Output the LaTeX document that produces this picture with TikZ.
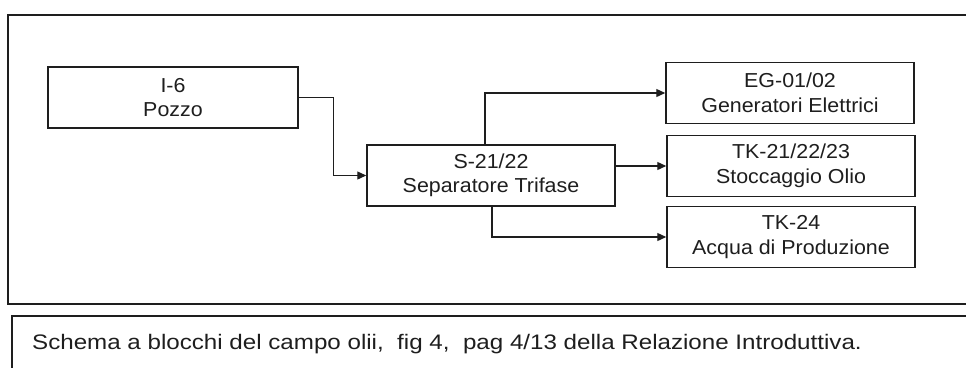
\documentclass[tikz,border=0pt]{standalone}
\usepackage{fontspec}
\setmainfont{Liberation Sans}
\newfontfamily\boxfont[FakeStretch=1.06]{Liberation Sans}
\newfontfamily\capfont[FakeStretch=1.15]{Liberation Sans}
\usetikzlibrary{arrows.meta}
\definecolor{ink}{HTML}{1E1E1E}
\tikzset{
  blk/.style={draw=ink, line width=1.5pt, minimum width=248pt, minimum height=61pt,
    align=center, inner sep=0pt, text=ink, font=\boxfont\fontsize{20.2}{24.5}\selectfont},
  conn/.style={draw=ink, line width=1.3pt, -{Triangle[length=9pt,width=8pt]}},
  frame/.style={draw=ink, line width=1.8pt}
}
\begin{document}
\begin{tikzpicture}[x=1pt,y=-1pt]
\useasboundingbox (0,0) rectangle (966,367);
\fill[white] (0,0) rectangle (966,367);
\begin{scope}
\clip (0,0) rectangle (966,367);
\draw[frame] (975,15) -- (8,15) -- (8,304) -- (975,304);
\draw[frame, line width=1.2pt] (975,316) -- (12,316) -- (12,380);
\end{scope}
\node[blk, minimum width=250pt] (i6) at (173,97.5) {I-6\\Pozzo};
\node[blk] (s) at (491,175.5) {S-21/22\\Separatore Trifase};
\node[blk] (eg) at (790,93) {EG-01/02\\Generatori Elettrici};
\node[blk] (tk) at (791,166) {TK-21/22/23\\Stoccaggio Olio};
\node[blk] (tk24) at (791,237) {TK-24\\Acqua di Produzione};
\draw[conn] (i6.east) -- ++(35,0) |- (s.west);
\draw[conn] ([xshift=-6pt]s.north) |- (eg.west);
\draw[conn] (s.east |- tk.west) -- (tk.west);
\draw[conn] ([xshift=1pt]s.south) |- (tk24.west);
\node[anchor=base west, inner sep=0pt, text=ink, font=\capfont\fontsize{21}{26}\selectfont] (cap) at (32,349.5)
  {Schema a blocchi del campo olii,\ \ fig 4,\ \ pag 4/13 della Relazione Introduttiva.};
\end{tikzpicture}
\end{document}
